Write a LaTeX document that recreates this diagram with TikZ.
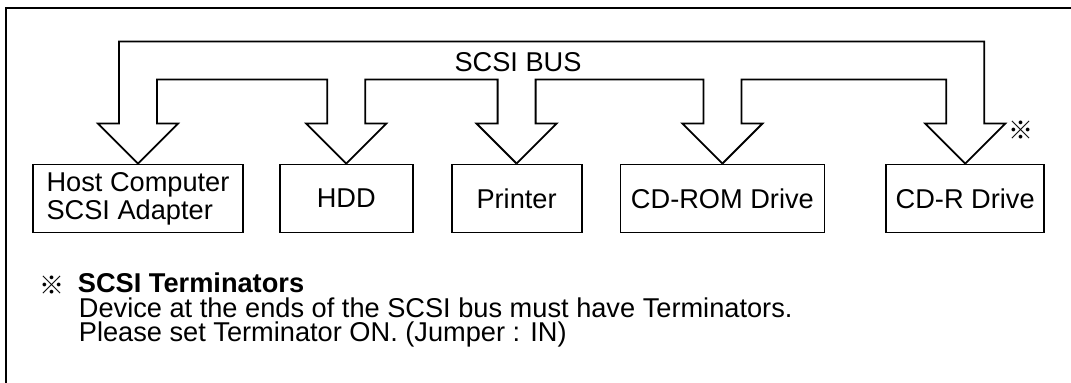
\documentclass[tikz,border=0pt]{standalone}
\usepackage{fontspec}
\setmainfont{Liberation Sans}
\newfontfamily\cjk{Noto Sans CJK JP}
\usetikzlibrary{positioning,calc}

\begin{document}
\begin{tikzpicture}[x=0.5pt,y=-0.5pt,
    line width=0.9pt,
    every node/.style={font=\fontsize{13.6}{14}\selectfont, inner sep=0pt},
    device/.style={draw, minimum height=34pt, align=left},
    note/.style={anchor=base west},
    refmark/.style={font=\cjk\fontsize{12.5}{12.5}\selectfont}
  ]
  %%Marco
  \useasboundingbox (0,0) rectangle (1071,383);
  \fill[white] (0,0) rectangle (1071,383);
  \draw (6,400) -- (6,8) -- (1090,8);

  %%Dispositivos
  \node[device, minimum width=105pt] (host) at (138,198.5) {Host Computer\\SCSI Adapter};
  \node[device, minimum width=66.5pt, right=17.5pt of host] (hdd) {HDD};
  \node[device, minimum width=65pt, right=18.5pt of hdd] (printer) {Printer};
  \node[device, minimum width=102pt, right=18.5pt of printer] (cdrom) {CD-ROM Drive};
  \node[device, minimum width=79pt, right=30pt of cdrom] (cdr) {CD-R Drive};

  %%Bus
  \draw (host.north) -- ++(-40,-40) -- ++(21,0) -- ++(0,-82)
    -| ($(cdr.north)+(19,-40)$) -- ++(21,0) -- (cdr.north);
  \foreach \a/\b in {host/hdd,hdd/printer,printer/cdrom,cdrom/cdr}
    \draw (\a.north) -- ++(40,-40) -- ++(-21,0) -- ++(0,-44)
      -| ($(\b.north)+(-19,-40)$) -- ++(-21,0) -- (\b.north);
  \node (buslabel) at (518,62) {SCSI BUS};
  \node[refmark] (termmark) at (1021,130) {※};

  %%Nota
  \node[refmark] (notemark) at (52,285) {※};
  \node[note, font=\bfseries\fontsize{13.6}{14}\selectfont] (notehead) at (77,293) {SCSI Terminators};
  \node[note] (noteline1) at ($(notehead.base west)+(1,25)$) {Device at the ends of the SCSI bus must have Terminators.};
  \node[note] (noteline2) at ($(noteline1.base west)+(0,24)$) {Please set Terminator ON. (Jumper : IN)};
\end{tikzpicture}
\end{document}
